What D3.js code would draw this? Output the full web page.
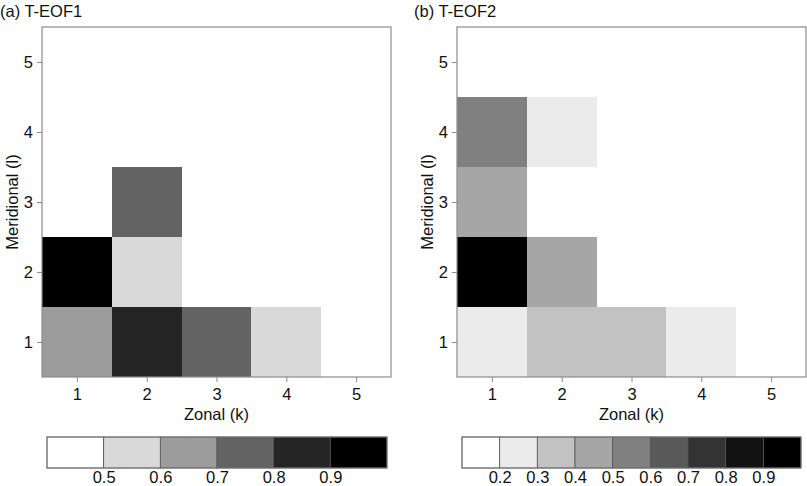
<!DOCTYPE html>
<html>
<head>
<meta charset="utf-8">
<script src="https://cdn.jsdelivr.net/npm/d3@7"></script>
<style>
  body { margin: 0; background: #fff; }
  svg { display: block; font-family: "Liberation Sans", Arial, sans-serif; }
</style>
</head>
<body>
<svg width="807" height="486"></svg>
<script>
// grid indices
var zonal = [1, 2, 3, 4, 5];
var meridional = [1, 2, 3, 4, 5];

// T-EOF1 cells: [k, l, value]
var eof1Cells = [
  [1, 1, 0.65], [2, 1, 0.85], [3, 1, 0.75], [4, 1, 0.55],
  [1, 2, 0.95], [2, 2, 0.55],
  [2, 3, 0.75]
];
var eof1Breaks = [0.4, 0.5, 0.6, 0.7, 0.8, 0.9, 1.0];
var eof1Greys = ['#ffffff', '#d9d9d9', '#9c9c9c', '#636363', '#252525', '#000000'];
var eof1Ticks = [0.5, 0.6, 0.7, 0.8, 0.9];

// T-EOF2 cells: [k, l, value]
var eof2Cells = [
  [1, 1, 0.25], [2, 1, 0.35], [3, 1, 0.35], [4, 1, 0.25],
  [1, 2, 0.95], [2, 2, 0.45],
  [1, 3, 0.45],
  [1, 4, 0.55], [2, 4, 0.25]
];
var eof2Breaks = [0.1, 0.2, 0.3, 0.4, 0.5, 0.6, 0.7, 0.8, 0.9, 1.0];
var eof2Greys = ['#ffffff', '#ebebeb', '#c2c2c2', '#a6a6a6', '#808080', '#595959', '#333333', '#121212', '#000000'];
var eof2Ticks = [0.2, 0.3, 0.4, 0.5, 0.6, 0.7, 0.8, 0.9];

var svg = d3.select('svg');
var FONT = '"Liberation Sans", Arial, sans-serif';

function drawPanel(opt) {
  var g = svg.append('g');
  var x = d3.scaleLinear().domain([0.5, 5.5]).range([opt.left, opt.right]);
  var y = d3.scaleLinear().domain([0.5, 5.5]).range([377, 27]);
  var color = d3.scaleThreshold()
    .domain(opt.breaks.slice(1, -1))
    .range(opt.greys);

  g.selectAll('rect.cell').data(opt.cells).enter().append('rect')
    .attr('class', 'cell')
    .attr('x', function (d) { return x(d[0] - 0.5); })
    .attr('y', function (d) { return y(d[1] + 0.5); })
    .attr('width', x(1.5) - x(0.5))
    .attr('height', y(0.5) - y(1.5))
    .attr('shape-rendering', 'crispEdges')
    .attr('fill', function (d) { return color(d[2]); });

  // frame
  g.append('rect')
    .attr('x', opt.left).attr('y', 27)
    .attr('width', opt.right - opt.left).attr('height', 350)
    .attr('fill', 'none').attr('stroke', '#8c8c8c').attr('stroke-width', 1.2);

  var xAxis = g.append('g').attr('transform', 'translate(0,377)')
    .call(d3.axisBottom(x).tickValues(zonal).tickSize(5).tickPadding(6)
      .tickFormat(d3.format('d')));
  var yAxis = g.append('g').attr('transform', 'translate(' + opt.left + ',0)')
    .call(d3.axisLeft(y).tickValues(meridional).tickSize(5).tickPadding(4)
      .tickFormat(d3.format('d')));
  [xAxis, yAxis].forEach(function (a) {
    a.select('.domain').remove();
    a.selectAll('line').attr('stroke', '#8c8c8c');
    a.selectAll('text').attr('font-size', 16.5).attr('fill', '#111')
      .attr('font-family', FONT);
  });

  g.append('text').attr('x', (opt.left + opt.right) / 2).attr('y', 420)
    .attr('text-anchor', 'middle').attr('font-size', 16.5).attr('fill', '#111')
    .text('Zonal (k)');
  g.append('text')
    .attr('transform', 'translate(' + (opt.left - 24) + ',' + y(3) + ') rotate(-90)')
    .attr('text-anchor', 'middle').attr('font-size', 16.5).attr('fill', '#111')
    .text('Meridional (l)');
  g.append('text').attr('x', opt.titleX).attr('y', 17)
    .attr('font-size', 16.5).attr('fill', '#111').text(opt.title);

  // colour bar
  var cb = d3.scaleLinear()
    .domain([opt.breaks[0], opt.breaks[opt.breaks.length - 1]])
    .range([opt.cbLeft, opt.cbRight]);
  var bins = opt.greys.map(function (c, i) { return [opt.breaks[i], opt.breaks[i + 1], c]; });
  g.selectAll('rect.bin').data(bins).enter().append('rect')
    .attr('class', 'bin')
    .attr('x', function (d) { return cb(d[0]); })
    .attr('y', 437)
    .attr('width', function (d) { return cb(d[1]) - cb(d[0]); })
    .attr('height', 31)
    .attr('fill', function (d) { return d[2]; })
    .attr('stroke', '#555').attr('stroke-width', 0.8);
  g.append('rect')
    .attr('x', opt.cbLeft).attr('y', 437)
    .attr('width', opt.cbRight - opt.cbLeft).attr('height', 31)
    .attr('fill', 'none').attr('stroke', '#777').attr('stroke-width', 1);
  var cbAxis = g.append('g').attr('transform', 'translate(0,468)')
    .call(d3.axisBottom(cb).tickValues(opt.ticks).tickSize(0).tickPadding(3)
      .tickFormat(d3.format('.1f')));
  cbAxis.select('.domain').remove();
  cbAxis.selectAll('text').attr('font-size', 16.5).attr('fill', '#111')
    .attr('font-family', FONT);
}

drawPanel({
  left: 42, right: 391, title: '(a) T-EOF1', titleX: 0,
  cells: eof1Cells, breaks: eof1Breaks, greys: eof1Greys, ticks: eof1Ticks,
  cbLeft: 47, cbRight: 387
});
drawPanel({
  left: 457, right: 806, title: '(b) T-EOF2', titleX: 414,
  cells: eof2Cells, breaks: eof2Breaks, greys: eof2Greys, ticks: eof2Ticks,
  cbLeft: 462, cbRight: 801
});
</script>
</body>
</html>
